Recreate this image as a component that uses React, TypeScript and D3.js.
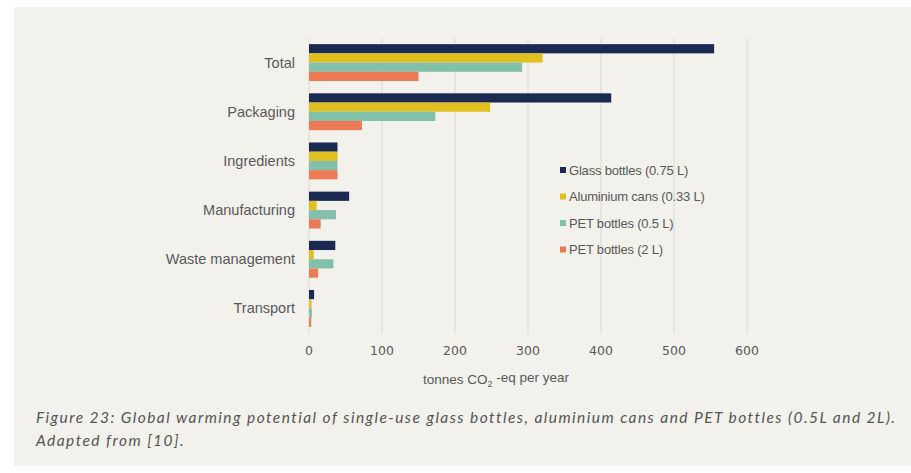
import React from "react";
import * as d3 from "d3";

// categories, top to bottom
const categories = ["Total", "Packaging", "Ingredients", "Manufacturing", "Waste management", "Transport"];
const seriesNames = ["Glass bottles (0.75 L)", "Aluminium cans (0.33 L)", "PET bottles (0.5 L)", "PET bottles (2 L)"];
const seriesColors = ["#1b2a50", "#e0c020", "#82c0aa", "#ec7a55"];

// tonnes CO2-eq per year, one array per series (same order as categories)
const glass = [555, 414, 39, 55, 36, 7];
const aluminium = [320, 248, 39, 10.5, 6.5, 3.5];
const pet05 = [292, 173, 39, 37, 33.5, 4];
const pet2 = [150, 72.5, 39, 16, 12.5, 3];
const xTicks = [0, 100, 200, 300, 400, 500, 600];

const seriesValues = [glass, aluminium, pet05, pet2];

export default function App() {
  const W = 911, H = 473;

  // plot area
  const x = d3.scaleLinear().domain([0, 600]).range([309, 747]);
  const y = d3.scaleBand().domain(categories).range([38, 333]).paddingInner(0.25).paddingOuter(0.125);
  const ySub = d3.scaleBand().domain(seriesNames).range([0, y.bandwidth()]);

  const textGrey = "#595959";

  return (
    <svg width={W} height={H} style={{ position: "absolute", left: 0, top: 0, display: "block" }}>
      <rect x={0} y={0} width={W} height={H} fill="#ffffff" />
      <rect x={14} y={7} width={W - 14} height={459} fill="#f2f1eb" />

      {/* gridlines */}
      <g>
        {xTicks.map(t => (
          <line key={t} x1={x(t)} x2={x(t)} y1={38} y2={334} stroke="#d9d9d9" strokeWidth={1} />
        ))}
      </g>

      {/* bars */}
      <g>
        {categories.map((c, ci) => (
          <g key={c} transform={`translate(0,${y(c)})`}>
            {seriesNames.map((s, si) => (
              <rect
                key={s}
                x={x(0)}
                y={ySub(s)}
                width={x(seriesValues[si][ci]) - x(0)}
                height={ySub.bandwidth()}
                fill={seriesColors[si]}
              />
            ))}
          </g>
        ))}
      </g>

      {/* category labels */}
      <g fontFamily="'Liberation Sans', Arial, sans-serif" fontSize={14.5} fill={textGrey} textAnchor="end">
        {categories.map(c => (
          <text key={c} x={295} y={(y(c) as number) + y.bandwidth() / 2} dy="0.35em">{c}</text>
        ))}
      </g>

      {/* x tick labels */}
      <g fontFamily="'DejaVu Sans', sans-serif" fontSize={12.5} fill={textGrey} textAnchor="middle">
        {xTicks.map(t => (
          <text key={t} x={x(t)} y={351} dy="0.35em">{t}</text>
        ))}
      </g>

      {/* axis title */}
      <text x={496} y={379} dy="0.35em" textAnchor="middle" fontFamily="'Liberation Sans', Arial, sans-serif" fontSize={13.5} fill={textGrey}>
        tonnes CO<tspan fontSize={9} dy="0.35em">2</tspan><tspan dy="-0.35em"> -eq per year</tspan>
      </text>

      {/* legend */}
      <g fontFamily="'Liberation Sans', Arial, sans-serif" fontSize={13} fill={textGrey}>
        {seriesNames.map((s, i) => (
          <g key={s} transform={`translate(560,${170 + i * 26.5})`}>
            <rect x={0} y={-3} width={6} height={6} fill={seriesColors[i]} />
            <text x={9} y={0} dy="0.35em" letterSpacing={-0.2}>{s}</text>
          </g>
        ))}
      </g>

      {/* caption */}
      <g fontFamily="Lato, 'Open Sans', sans-serif" fontStyle="italic" fontSize={15.5} fill="#555555" letterSpacing={1.45}>
        <text x={36} y={423}>Figure 23: Global warming potential of single-use glass bottles, aluminium cans and PET bottles (0.5L and 2L).</text>
        <text x={36} y={446}>Adapted from [10].</text>
      </g>
    </svg>
  );
}
